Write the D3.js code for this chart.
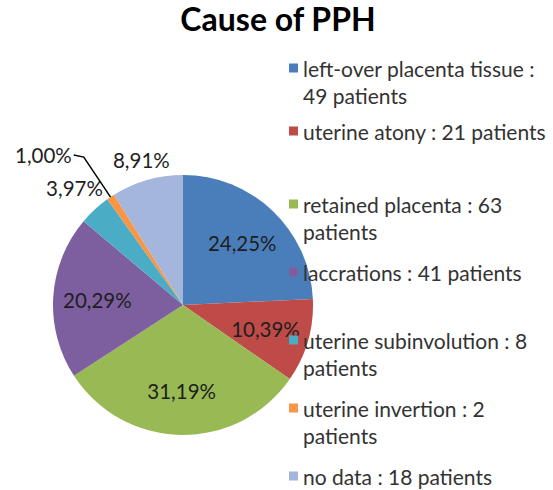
<!DOCTYPE html>
<html>
<head>
<meta charset="utf-8">
<script src="https://cdn.jsdelivr.net/npm/d3@7"></script>
<style>
  html, body { margin: 0; padding: 0; background: #fff; }
  svg { display: block; }
</style>
</head>
<body>
<svg id="chart" width="553" height="490"></svg>
<script>
// ---- data ----
const title = "Cause of PPH";
const categories = [
  "left-over placenta tissue",
  "uterine atony",
  "retained placenta",
  "laccrations",
  "uterine subinvolution",
  "uterine invertion",
  "no data"
];
const patients = [49, 21, 63, 41, 8, 2, 18];
const percentLabels = ["24,25%", "10,39%", "31,19%", "20,29%", "3,97%", "1,00%", "8,91%"];
const legendLines = [
  ["left-over placenta tissue :", "49 patients"],
  ["uterine atony : 21 patients"],
  ["retained placenta : 63", "patients"],
  ["laccrations : 41 patients"],
  ["uterine subinvolution : 8", "patients"],
  ["uterine invertion : 2", "patients"],
  ["no data : 18 patients"]
];
const colors = ["#4a7ebb", "#be4b48", "#98b954", "#7d5fa0", "#4bacc6", "#f79646", "#a4b6dc"];

// ---- layout ----
const W = 553, H = 490;
const cx = 183, cy = 305, R = 130;
const svg = d3.select("#chart");
const font = "Lato, 'Open Sans', sans-serif";

svg.append("text")
  .attr("x", 278).attr("y", 31)
  .attr("text-anchor", "middle")
  .attr("font-family", font)
  .attr("font-weight", "bold")
  .attr("font-size", 32)
  .attr("fill", "#000")
  .text(title);

const total = d3.sum(patients);
const rows = categories.map((c, i) => ({ cat: c, value: patients[i], pct: percentLabels[i], color: colors[i], lines: legendLines[i], i }));

const pie = d3.pie().sort(null).value(d => d.value);
const arcs = pie(rows);
const arc = d3.arc().innerRadius(0).outerRadius(R);

const g = svg.append("g").attr("transform", `translate(${cx},${cy})`);
g.selectAll("path.slice").data(arcs).join("path")
  .attr("class", "slice")
  .attr("d", arc)
  .attr("fill", d => d.data.color);

// labels
const pctSize = 20.5;
const labelG = g.append("g")
  .attr("font-family", font)
  .attr("font-size", pctSize)
  .attr("fill", "#1e1e1e");

arcs.forEach(a => {
  const mid = (a.startAngle + a.endAngle) / 2;
  const s = Math.sin(mid), c = -Math.cos(mid);
  const share = a.data.value / total;
  if (share >= 0.1) {
    const d = R * 0.66;
    labelG.append("text")
      .attr("x", s * d).attr("y", c * d)
      .attr("text-anchor", "middle")
      .attr("dominant-baseline", "central")
      .text(a.data.pct);
  } else if (share >= 0.02) {
    const t = labelG.append("text")
      .attr("text-anchor", "middle")
      .attr("dominant-baseline", "central")
      .text(a.data.pct);
    const w = t.node().getComputedTextLength();
    const h = pctSize;
    const ext = (w / 2) * Math.abs(s) + (h / 2) * Math.abs(c);
    const d = R + 3 + ext;
    t.attr("x", s * d).attr("y", c * d);
  } else {
    const p0 = [s * R, c * R];
    const p1 = [s * R * 1.37, c * R * 1.37];
    const dir = s < 0 ? -1 : 1;
    const p2 = [p1[0] + dir * 10, p1[1] - 2];
    g.append("path")
      .attr("d", d3.line()([p0, p1, p2]))
      .attr("fill", "none")
      .attr("stroke", "#000")
      .attr("stroke-width", 1.5);
    labelG.append("text")
      .attr("x", p2[0] + dir * 2).attr("y", p2[1])
      .attr("text-anchor", dir < 0 ? "end" : "start")
      .attr("dominant-baseline", "central")
      .text(a.data.pct);
  }
});

// legend
const legX = 289;
const slot = d3.scaleBand().domain(d3.range(rows.length)).range([68, 68 + 68 * rows.length]);
const lineH = 27;
const leg = svg.append("g")
  .attr("font-family", font)
  .attr("font-size", 21)
  .attr("fill", "#333");
rows.forEach((r, i) => {
  const y0 = slot(i) - (r.lines.length === 1 && i < 3 ? 5 : 0);
  leg.append("rect")
    .attr("x", legX).attr("y", y0 - 4.5)
    .attr("width", 9).attr("height", 9)
    .attr("fill", r.color);
  r.lines.forEach((ln, j) => {
    leg.append("text")
      .attr("x", legX + 14).attr("y", y0 + j * lineH)
      .attr("dominant-baseline", "central")
      .text(ln);
  });
});
</script>
</body>
</html>
